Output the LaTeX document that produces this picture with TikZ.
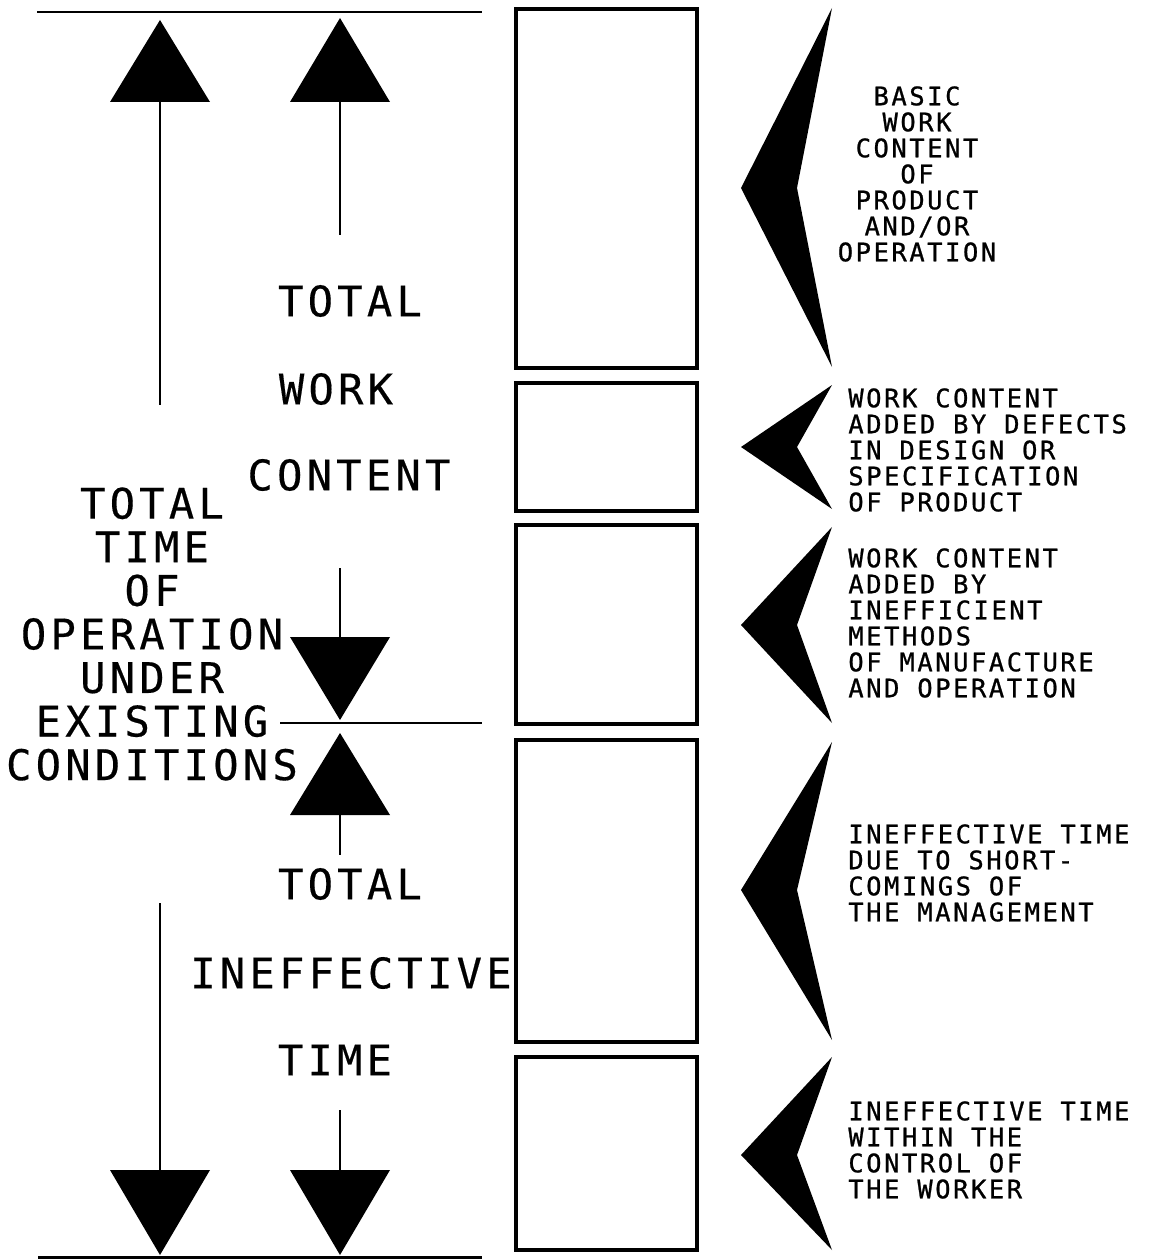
\documentclass[tikz,border=0pt]{standalone}
\usepackage{fontspec}
\newfontfamily\plotfont[LetterSpace=10,FakeBold=0.4]{DejaVu Sans Mono}
\newfontfamily\plotsmall[LetterSpace=10,FakeBold=0.9]{DejaVu Sans Mono}
\begin{document}
\begin{tikzpicture}[x=0.02cm,y=-0.02cm,
  bigtxt/.style={inner sep=0pt,font=\plotfont\fontsize{24}{24.8}\selectfont},
  smalltxt/.style={inner sep=0pt,font=\plotsmall\fontsize{14.5}{14.8}\selectfont},
  box/.style={line width=2.2pt},
  shaft/.style={line width=1.1pt},
  rule/.style={line width=1.7pt}]
\useasboundingbox (0,0) rectangle (1152,1260);

%% Rules
\draw[rule] (37,12) -- (482,12);
\draw[rule] (280,723) -- (482,723);
\draw[rule] (38,1257) -- (482,1257);

%% Total time arrow
\fill (110,102) -- (160,20) -- (210,102) -- cycle;
\draw[shaft] (160,102) -- (160,405);
\draw[shaft] (160,903) -- (160,1170);
\fill (110,1170) -- (160,1255) -- (210,1170) -- cycle;

%% Work content arrow
\fill (290,102) -- (340,18) -- (390,102) -- cycle;
\draw[shaft] (340,102) -- (340,235);
\draw[shaft] (340,568) -- (340,637);
\fill (290,637) -- (340,720) -- (390,637) -- cycle;

%% Ineffective time arrow
\fill (290,815) -- (340,733) -- (390,815) -- cycle;
\draw[shaft] (340,815) -- (340,855);
\draw[shaft] (340,1110) -- (340,1170);
\fill (290,1170) -- (340,1255) -- (390,1170) -- cycle;

%% Labels
\node[bigtxt] (totwc) at (350,301) {TOTAL};
\node[bigtxt] (work) at (336,389) {WORK};
\node[bigtxt] (content) at (349,475) {CONTENT};
\node[bigtxt,align=center] (tottime) at (152,634) {TOTAL\\TIME\\OF\\OPERATION\\UNDER\\EXISTING\\CONDITIONS};
\node[bigtxt] (totit) at (350,884) {TOTAL};
\node[bigtxt] (ineff) at (351,973) {INEFFECTIVE};
\node[bigtxt] (itime) at (335,1060) {TIME};

%% Boxes and chevrons
\foreach \t/\b in {9/368, 383/511, 525/724, 740/1042, 1057/1250}
  \draw[box] (516,\t) rectangle (697,\b);
\foreach \t/\m/\b in {8/188/367, 385/447/509, 527/625/723, 742/890/1040, 1057/1155/1250}
  \fill (832,\t) -- (741,\m) -- (832,\b) -- (797,\m) -- cycle;

%% Descriptions
\node[smalltxt,align=center,anchor=north] (basic) at (917,86) {BASIC\\WORK\\CONTENT\\OF\\PRODUCT\\AND/OR\\OPERATION};
\node[smalltxt,align=left,anchor=north west] (defects) at (848,388) {WORK CONTENT\\ADDED BY DEFECTS\\IN DESIGN OR\\SPECIFICATION\\OF PRODUCT};
\node[smalltxt,align=left,anchor=north west] (methods) at (848,548) {WORK CONTENT\\ADDED BY\\INEFFICIENT\\METHODS\\OF MANUFACTURE\\AND OPERATION};
\node[smalltxt,align=left,anchor=north west] (mgmt) at (848,824) {INEFFECTIVE TIME\\DUE TO SHORT-\\COMINGS OF\\THE MANAGEMENT};
\node[smalltxt,align=left,anchor=north west] (worker) at (848,1101) {INEFFECTIVE TIME\\WITHIN THE\\CONTROL OF\\THE WORKER};

\end{tikzpicture}
\end{document}
